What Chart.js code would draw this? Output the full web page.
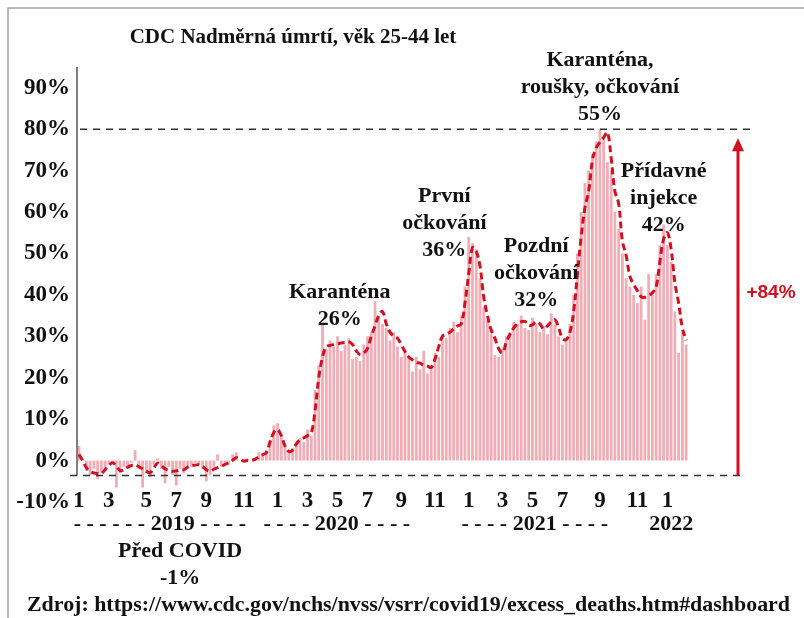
<!doctype html>
<html lang="cs">
<head>
<meta charset="utf-8">
<title>CDC Nadměrná úmrtí, věk 25-44 let</title>
<script src="https://cdn.jsdelivr.net/npm/chart.js"></script>
<style>
  body { margin: 0; background: #fff; }
  canvas { display: block; }
</style>
</head>
<body>
<canvas id="excessChart" width="804" height="618"></canvas>
<script>
// tydenni nadmerna umrti v % (sloupce) a vyhlazeny trend (carkovana cara)
const weekValues = [
  3.5, 0.5, -2.5, -3.5, -2, -4.5, -3, -2.5, -1, -0.5,
  -6.5, -3, -1.5, -2, -0.5, 2.5, -2, -6.5, -3, -4,
  -1, 0.5, -2, -5.5, -1.5, -3.5, -6, -2, -3, -1.5,
  -1.5, -0.5, -1, -2, -5, -3.5, -1.5, 1.5, -1.5, -0.5,
  -1, 1.5, 2, 0, -0.5, 0.5, 0, 0.5, 2, 1.5,
  2.5, 5, 8.5, 9, 6, 4, 2, 3, 3.5, 5.5,
  4.5, 7.5, 6, 17, 23, 33, 27, 29, 27.5, 30,
  26.5, 28, 29.5, 24.5, 25, 24, 28, 30, 31, 38.5,
  35, 33, 32, 29, 31, 27.5, 25, 26, 24.5, 21.5,
  25, 22, 26.5, 21, 23, 26, 25, 30.5, 29.5, 32,
  33.5, 31, 35, 42, 54, 52.5, 51, 44, 37, 34,
  30.5, 25.5, 25, 27, 30, 31, 33.5, 33, 35, 32,
  31.5, 34.5, 33, 31, 32.5, 30.5, 35.5, 33, 30, 28,
  29.5, 33, 40, 50, 60, 67, 70, 74, 77, 80,
  78, 72, 70, 60, 56, 50, 44, 42, 40, 38,
  42, 34, 45, 40, 45, 52, 57, 52, 48, 36,
  26, 31, 28
];

const trendValues = [
  1.5, 0, -1.7, -2.6, -3, -3.1, -3.1, -2.2, -1.2, -0.5,
  -1.4, -2.4, -2.2, -1.6, -1.2, -1, -1.5, -2, -2.6, -2.9,
  -1.8, -0.6, -1.2, -2, -2.4, -2.6, -2.5, -2.3, -2.2, -1.6,
  -1.2, -1.1, -1, -1.5, -2.2, -2.6, -2.1, -1.7, -1.4, -0.9,
  -0.5, 0.1, 0.7, 0.3, -0.1, 0, 0.1, 0.3, 0.9, 1.4,
  1.9, 4.5, 6.8, 7.5, 6, 3.5, 2.2, 2.5, 4, 5,
  5.5, 6, 6.7, 12, 20, 25, 27.5, 27.8, 28, 28.2,
  28.4, 28.5, 28.7, 28, 26.5, 25.6, 26, 27, 30, 32.5,
  35, 36, 33, 31, 30, 29.5, 28, 26.3, 25, 24.3,
  23.7, 23.5, 23, 22.8, 22.5, 24.5, 27.5, 30, 30.5, 31,
  31.8, 32.5, 33, 38, 45, 51.4, 50.5, 47, 39.5, 35,
  31.5, 29.5, 27, 26, 28.5, 30.5, 32, 33, 33.5, 33.6,
  32.6, 32.8, 33.5, 33, 31.8, 32.5, 33.5, 34, 32, 29.5,
  29.2, 31, 36, 45, 54, 61, 65, 72.5, 75.5, 76.8,
  78, 79.2, 73, 65, 62, 53, 49.5, 44.5, 42.5, 41,
  39.6, 39.4, 39.8, 40.5, 42, 48, 53.5, 55, 51, 43,
  38, 32, 29
];

// popisky mesicu na ose x a tyden, pod kterym stoji
const monthTicks = [1, 3, 5, 7, 9, 11, 1, 3, 5, 7, 9, 11, 1, 3, 5, 7, 9, 11, 1];
const monthTickWeeks = [0, 8, 18, 26, 34, 44, 53, 61, 69, 77, 86, 95, 104, 113, 121, 129, 139, 149, 157];
const yTicks = [-10, 0, 10, 20, 30, 40, 50, 60, 70, 80, 90];

const yearWeeks = { 2019: 52, 2020: 53, 2021: 52, 2022: 6 };
const refHigh = 80;   // horni carkovana cara
const refLow = -3.6;  // dolni carkovana cara

// kategorie = tydny
const weeks = [];
for (const yr in yearWeeks) {
  for (let w = 1; w <= yearWeeks[yr]; w++) weeks.push(yr + '-T' + w);
}

const serif = '"Liberation Serif", "Times New Roman", serif';

// texty nad grafem: tyden, hodnota prvniho radku, radky
const notes = [
  { at: 69.6, v: 40.6, lines: ['Karanténa', '26%'] },
  { at: 97.5, v: 63.8, lines: ['První', 'očkování', '36%'] },
  { at: 122, v: 51.7, lines: ['Pozdní', 'očkování', '32%'] },
  { at: 139, v: 96.6, lines: ['Karanténa,', 'roušky, očkování', '55%'] },
  { at: 156, v: 69.8, lines: ['Přídavné', 'injekce', '42%'] },
  { at: 27, v: -21.9, lines: ['Před COVID', '-1%'] }
];
const yearNotes = [
  { at: 21.6, text: '- - - - - - 2019 - - - -' },
  { at: 68.8, text: '- - - - 2020 - - - -' },
  { at: 121.6, text: '- - - - 2021 - - - -' },
  { at: 158, text: '2022' }
];

const overlay = {
  id: 'overlay',
  afterDraw(chart) {
    const { ctx, chartArea: a, scales: { x, y } } = chart;
    const yHigh = y.getPixelForValue(refHigh);
    const yLow = y.getPixelForValue(refLow);
    ctx.save();

    // ramecek obrazku
    ctx.strokeStyle = '#a0a0a0';
    ctx.lineWidth = 1.5;
    ctx.beginPath();
    ctx.moveTo(8, 618); ctx.lineTo(8, 8); ctx.lineTo(804, 8);
    ctx.stroke();

    // osa y
    ctx.strokeStyle = '#808080';
    ctx.lineWidth = 2;
    ctx.beginPath();
    ctx.moveTo(a.left, a.top); ctx.lineTo(a.left, yLow);
    ctx.stroke();

    // carkovane cary 80 % a minimum
    ctx.strokeStyle = '#333';
    ctx.lineWidth = 1.5;
    ctx.setLineDash([7, 6]);
    ctx.beginPath();
    ctx.moveTo(a.left + 3, yHigh); ctx.lineTo(a.right + 62, yHigh);
    ctx.moveTo(a.left - 7, yLow); ctx.lineTo(a.right + 58, yLow);
    ctx.stroke();
    ctx.setLineDash([]);

    // sipka +84 %
    const ax = a.right + 50;
    ctx.strokeStyle = '#d0101e';
    ctx.fillStyle = '#d0101e';
    ctx.lineWidth = 3;
    ctx.beginPath();
    ctx.moveTo(ax, yLow); ctx.lineTo(ax, yHigh + 20);
    ctx.stroke();
    ctx.beginPath();
    ctx.moveTo(ax, yHigh + 9); ctx.lineTo(ax - 6, yHigh + 22); ctx.lineTo(ax + 6, yHigh + 22);
    ctx.closePath();
    ctx.fill();
    ctx.font = 'bold 19px "Liberation Sans", Arial, sans-serif';
    ctx.textAlign = 'center';
    ctx.textBaseline = 'middle';
    ctx.fillText('+84%', ax + 33, y.getPixelForValue(40.5));

    // nadpis
    ctx.fillStyle = '#111';
    ctx.font = 'bold 21px ' + serif;
    ctx.fillText('CDC Nadměrná úmrtí, věk 25-44 let', 293, 38, 337);

    // mesice na ose x
    ctx.font = 'bold 23px ' + serif;
    monthTicks.forEach((m, i) => {
      ctx.fillText(String(m), x.getPixelForValue(monthTickWeeks[i]), a.bottom - 1);
    });

    // popisky udalosti
    ctx.font = 'bold 22px ' + serif;
    notes.forEach(n => {
      const px = x.getPixelForValue(n.at);
      const py = y.getPixelForValue(n.v);
      n.lines.forEach((t, i) => ctx.fillText(t, px, py + i * 27));
    });

    // roky pod osou
    yearNotes.forEach(n => {
      ctx.fillText(n.text, x.getPixelForValue(n.at), a.bottom + 22);
    });

    // zdroj
    ctx.textAlign = 'left';
    ctx.fillText('Zdroj: https://www.cdc.gov/nchs/nvss/vsrr/covid19/excess_deaths.htm#dashboard', 27, 605, 763);
    ctx.restore();
  }
};

const ctx = document.getElementById('excessChart').getContext('2d');
const chart = new Chart(ctx, {
  data: {
    labels: weeks,
    datasets: [
      {
        type: 'line',
        data: trendValues,
        borderColor: '#d2101f',
        borderWidth: 3,
        borderDash: [7, 4],
        pointRadius: 0,
        tension: 0.4,
        order: 0
      },
      {
        type: 'bar',
        data: weekValues,
        backgroundColor: 'rgba(236,150,162,0.78)',
        borderWidth: 0,
        barPercentage: 0.75,
        categoryPercentage: 1,
        order: 1
      }
    ]
  },
  options: {
    responsive: false,
    animation: false,
    devicePixelRatio: 1,
    layout: { padding: { left: 0, top: 67, right: 116, bottom: 116 } },
    plugins: { legend: { display: false }, tooltip: { enabled: false } },
    scales: {
      x: {
        display: false
      },
      y: {
        min: -10,
        max: 95,
        grid: { display: false, drawTicks: false },
        border: { display: false },
        afterFit: s => { s.width = 77; },
        afterBuildTicks: s => { s.ticks = yTicks.map(v => ({ value: v })); },
        ticks: {
          padding: 7,
          color: '#111',
          font: { family: serif, size: 23, weight: 'bold' },
          callback: v => v + '%'
        }
      }
    }
  },
  plugins: [overlay]
});
</script>
</body>
</html>
